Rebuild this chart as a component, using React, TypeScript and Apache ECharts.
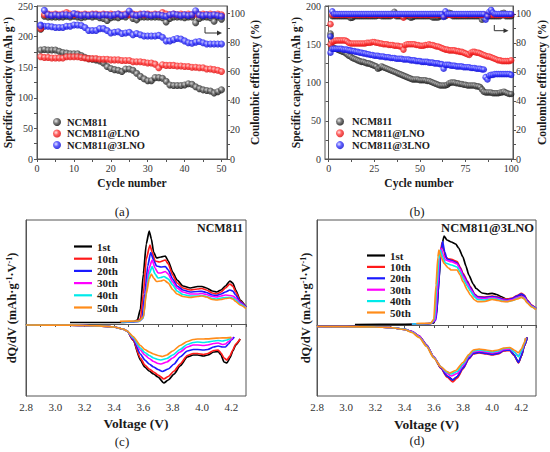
import React, { useEffect, useRef } from 'react';
import * as echarts from 'echarts';

// ---------- Panel (a): 50 cycles ----------
const aBlackCap = [
  178, 179, 178, 178, 178, 176, 174, 173, 172, 172,
  172, 169, 166, 164, 163, 162, 160, 157, 151, 148,
  146, 145, 143, 147, 147, 145, 140, 135, 131, 128,
  128, 133, 133, 132, 127, 121, 120, 120, 120, 121,
  123, 122, 118, 115, 113, 112, 111, 108, 110, 113,
];
const aRedCap = [
  167, 166, 166, 165, 165, 165, 165, 167, 167, 167,
  167, 166, 165, 164, 164, 164, 163, 163, 163, 162,
  162, 162, 161, 161, 161, 159, 159, 159, 158, 157,
  157, 155, 149, 154, 153, 153, 153, 152, 152, 151,
  151, 150, 150, 149, 149, 147, 147, 146, 145, 143,
];
const aBlueCap = [
  219, 217, 217, 216, 215, 215, 215, 217, 217, 219,
  219, 218, 215, 210, 210, 210, 213, 213, 210, 206,
  207, 208, 205, 206, 207, 203, 205, 203, 201, 201,
  201, 201, 202, 199, 193, 193, 195, 197, 196, 193,
  190, 189, 191, 192, 190, 188, 188, 188, 188, 188,
];
const aBlackCE = [
  89, 98, 97.5, 97.5, 97.5, 97.5, 97.5, 98, 97.5, 98,
  97.5, 97, 97.5, 98, 97.5, 98, 97, 96.5, 95, 97,
  97.5, 97, 98, 97.5, 99.5, 96.5, 95.5, 97.5, 97.5, 97.5,
  97.5, 97.5, 97.5, 97, 94, 96.5, 97.5, 97.5, 97.5, 97,
  97.5, 97.5, 93.5, 96.5, 97.5, 97.5, 97, 94.5, 97.5, 96,
];
const aRedCE = [
  89.5, 99, 99.5, 99, 99.5, 99, 99.5, 100.5, 99.5, 99,
  99.5, 99, 99.5, 99, 99.5, 99.5, 99, 99.5, 99, 99.5,
  99, 99.5, 99, 99.5, 99, 99.5, 99, 99.5, 99, 99.5,
  99, 99.5, 99, 100.5, 99.5, 99, 99.5, 99, 99.5, 99,
  99.5, 99, 99.5, 99, 99.5, 99, 99.5, 99, 99.5, 99,
];
const aBlueCE = [
  91.5, 102, 99, 98.5, 99, 98.5, 99, 99, 98.5, 99.8,
  99, 98.5, 99, 98.5, 99, 99, 98.5, 99, 99, 98.5,
  99, 99.5, 98.5, 99, 101.5, 99, 98.5, 99, 99.5, 99,
  98.5, 99, 99, 98.5, 98, 99, 99.5, 99, 98.5, 99,
  98.5, 99, 101.8, 99, 98.5, 99, 98.5, 99, 98.5, 98,
];

// ---------- Panel (b): 100 cycles ----------
const bBlackCap = [
  161, 146, 145, 144, 143, 142, 141, 140, 139, 137,
  135, 134, 132, 131, 130, 129, 128, 127, 127, 126,
  125, 125, 124, 123, 122, 121, 118, 119, 121, 120,
  119, 118, 117, 116, 115, 114, 113, 112, 111, 110,
  109, 108, 107, 106, 105, 104, 104, 104, 104, 103,
  103, 103, 103, 102, 102, 101, 100, 99, 98, 97,
  96, 96, 96, 96, 97, 99, 100, 100, 100, 99,
  99, 98, 98, 97, 97, 96, 96, 96, 96, 96,
  95, 95, 94, 91, 88, 87, 87, 87, 87, 86,
  86, 86, 86, 87, 87, 88, 87, 86, 85, 85,
];
const bRedCap = [
  150, 153, 154, 155, 155, 155, 155, 155, 155, 154,
  152, 151, 151, 151, 151, 151, 151, 151, 151, 151,
  152, 152, 152, 153, 153, 152, 152, 151, 151, 150,
  150, 150, 149, 149, 149, 148, 148, 148, 147, 147,
  143, 149, 150, 150, 150, 150, 150, 149, 149, 148,
  148, 148, 149, 149, 150, 149, 149, 148, 147, 147,
  146, 145, 144, 143, 143, 142, 142, 142, 142, 141,
  141, 140, 140, 139, 138, 137, 136, 139, 140, 140,
  139, 139, 138, 137, 136, 135, 134, 134, 133, 132,
  131, 130, 129, 129, 128, 128, 128, 128, 128, 129,
];
const bBlueCap = [
  139, 144, 144, 144, 144, 144, 144, 143, 143, 143,
  142, 142, 141, 141, 140, 140, 139, 139, 138, 138,
  137, 137, 136, 136, 135, 135, 135, 134, 134, 134,
  133, 133, 133, 132, 132, 132, 131, 131, 131, 131,
  130, 130, 130, 130, 129, 129, 129, 128, 128, 128,
  127, 127, 127, 127, 126, 126, 126, 125, 125, 125,
  124, 124, 118, 123, 123, 123, 122, 122, 122, 121,
  121, 121, 121, 120, 120, 120, 120, 119, 119, 119,
  118, 118, 118, 117, 117, 107, 104, 109, 110, 110,
  111, 111, 111, 111, 111, 111, 111, 111, 111, 110,
];
const bBlackCE = [
  86.5, 98.5, 98.5, 98.5, 98.5, 98.5, 98.5, 98.5, 98.5, 98.5,
  98.5, 97.3, 97.5, 98.5, 98.5, 98.5, 98.5, 98.5, 98.5, 98.5,
  98.5, 98.5, 98.5, 98.5, 98.5, 98.5, 99, 99, 98.5, 98.5,
  98.5, 98.5, 98.5, 98.5, 99.5, 101.5, 98.5, 98.5, 98.5, 98.5,
  98.5, 98.5, 98.5, 98.5, 97.5, 97.8, 98.5, 98.5, 98.5, 98.5,
  98.5, 98.5, 98.5, 98.5, 98.5, 98.5, 97.6, 97.6, 97.6, 97.6,
  98.5, 98.5, 98.5, 98.5, 99.5, 100.8, 100.5, 98.5, 98.5, 98.5,
  98.5, 98.5, 98.5, 98.5, 98.5, 98.5, 98.5, 98.5, 98.5, 98.5,
  98.5, 98.5, 98.5, 96, 97.2, 98.5, 98.5, 98.5, 98.5, 98.5,
  98.5, 98.5, 98.5, 98.5, 100.5, 100.8, 98.5, 98.5, 98.5, 98.5,
];
const bRedCE = [
  93, 99.3, 99.5, 99.3, 99.3, 99.5, 99.3, 99.3, 99.5, 99.3,
  99.3, 99.5, 99.3, 99.3, 99.5, 99.3, 99.3, 99.5, 99.3, 99.3,
  99.5, 99.3, 99.3, 99.5, 99.3, 99.3, 99.5, 99.3, 99.3, 99.5,
  99.3, 99.3, 99.5, 99.3, 99.3, 99.5, 99.3, 99.3, 99.5, 99.3,
  97.5, 99.3, 99.5, 99.3, 99.3, 99.5, 99.3, 99.3, 99.5, 99.3,
  99.3, 99.5, 99.3, 99.3, 99.5, 99.3, 99.3, 99.5, 99.3, 99.3,
  99.5, 99.3, 99.3, 99.5, 99.3, 99.3, 99.5, 99.3, 99.3, 99.5,
  99.3, 99.3, 99.5, 99.3, 99.3, 99.5, 99.8, 99.3, 99.5, 99.3,
  99.3, 99.5, 99.3, 99.3, 99.5, 99.3, 99.3, 99.5, 99.3, 99.3,
  99.5, 99.3, 99.3, 99.5, 99.3, 99.3, 99.5, 99.3, 99.3, 99.5,
];
const bBlueCE = [
  84.5, 101.8, 100, 100, 100, 100, 100, 100, 100, 100,
  100, 100, 100, 100, 100, 100, 100, 100, 100, 100,
  100, 100, 100, 100, 100, 100, 100, 100, 100, 100,
  100, 100, 100, 100, 100, 100, 100, 100, 100, 100,
  100, 100, 100, 100, 100, 100, 100, 100, 100, 100,
  100, 100, 100, 100, 100, 100, 100, 100, 100, 100,
  100, 100, 98, 101.8, 100, 100, 100, 100, 100, 100,
  100, 100, 100, 100, 100, 100, 100, 100, 100, 100,
  100, 100, 100, 100, 100, 96, 98.5, 101.5, 102.8, 101,
  100, 100, 100, 100, 100, 100, 100, 100, 100, 100,
];

const sampleNames = ['NCM811', 'NCM811@LNO', 'NCM811@3LNO'];
const xTicksA = [0, 10, 20, 30, 40, 50];
const xTicksB = [0, 25, 50, 75, 100];
const ceTicks = [0, 20, 40, 60, 80, 100];

// ---------- Panels (c), (d): dQ/dV curves [voltage, dQ/dV (a.u.)] ----------
const cycleLabels = ['1st', '10th', '20th', '30th', '40th', '50th'];
const voltTicks = [2.8, 3.0, 3.2, 3.4, 3.6, 3.8, 4.0, 4.2];
const voltMinorTicks = [2.8, 2.9, 3.0, 3.1, 3.2, 3.3, 3.4, 3.5, 3.6, 3.7, 3.8, 3.9, 4.0, 4.1, 4.2, 4.3];

const cCh1 = [[3.10,1.5],[3.45,1.5],[3.53,2],[3.56,4],[3.58,15],[3.60,50],[3.62,80],[3.64,93],[3.655,85],[3.67,72],[3.69,66],[3.72,67],[3.75,68],[3.77,63],[3.80,52],[3.83,44],[3.87,38],[3.92,36],[3.97,37.5],[4.00,37.5],[4.03,36],[4.07,33],[4.10,32],[4.13,34],[4.16,38],[4.19,43],[4.21,41],[4.23,34],[4.26,24],[4.30,17]];
const cCh10 = [[3.45,2],[3.55,2.5],[3.58,5],[3.60,30],[3.62,65],[3.645,79],[3.66,72],[3.68,63],[3.71,62],[3.75,64],[3.77,60],[3.80,49],[3.83,41],[3.87,36],[3.92,34],[3.97,35],[4.00,35.5],[4.03,34],[4.07,31],[4.10,30],[4.13,32],[4.16,36],[4.19,40],[4.21,38],[4.23,32],[4.26,23],[4.30,17]];
const cCh20 = [[3.45,2],[3.56,2.5],[3.59,5],[3.61,30],[3.63,58],[3.65,71.5],[3.67,64],[3.69,58],[3.72,57],[3.75,57.5],[3.77,54],[3.80,45],[3.83,38],[3.87,34],[3.92,32],[3.97,32.5],[4.00,32.7],[4.03,31.5],[4.07,29],[4.10,28.5],[4.13,30],[4.16,32],[4.19,34],[4.21,33],[4.23,29],[4.26,22],[4.30,17]];
const cCh30 = [[3.45,2],[3.57,2.5],[3.60,6],[3.62,35],[3.64,56],[3.66,64],[3.68,56],[3.70,51],[3.72,51],[3.75,52.5],[3.77,50],[3.80,42],[3.83,36],[3.87,32],[3.92,30],[3.97,30],[4.00,30.5],[4.03,29.5],[4.07,27.5],[4.10,27],[4.13,28],[4.16,29],[4.19,28.5],[4.21,28],[4.23,26],[4.26,21],[4.30,16.5]];
const cCh40 = [[3.45,2.2],[3.57,2.7],[3.60,6],[3.62,32],[3.64,50],[3.66,57.5],[3.68,50],[3.70,46],[3.72,46.5],[3.74,47.5],[3.77,45],[3.80,39],[3.83,33],[3.87,29.5],[3.92,28],[3.97,28],[4.00,28.5],[4.03,27.5],[4.07,25.5],[4.10,25],[4.13,26],[4.16,26.5],[4.19,26.5],[4.21,26],[4.23,24],[4.26,20],[4.30,16]];
const cCh50 = [[3.44,2.7],[3.57,3],[3.60,7],[3.62,30],[3.64,45],[3.655,50],[3.67,46],[3.69,42.5],[3.72,43],[3.74,44],[3.77,41],[3.80,34.5],[3.83,30],[3.87,27.5],[3.92,26.5],[3.97,27.5],[4.00,28],[4.03,27],[4.07,24.5],[4.10,24],[4.13,24.5],[4.16,25.5],[4.19,26],[4.21,25],[4.23,22.5],[4.26,19],[4.30,15.5]];

const cDis1 = [[2.80,-1],[3.10,-1.2],[3.30,-1.8],[3.40,-3],[3.46,-5],[3.49,-7],[3.53,-16],[3.58,-36],[3.61,-43],[3.64,-47],[3.67,-50],[3.70,-53],[3.74,-59],[3.77,-56],[3.81,-50],[3.85,-42],[3.90,-33],[3.94,-31],[3.97,-31],[4.01,-32],[4.04,-31],[4.08,-28],[4.11,-27.5],[4.13,-31],[4.15,-38],[4.17,-39],[4.19,-34],[4.21,-27],[4.23,-21],[4.26,-15]];
const cDis10 = [[2.80,-1],[3.10,-1.2],[3.30,-1.8],[3.40,-3],[3.46,-5],[3.49,-7],[3.53,-16],[3.58,-34],[3.61,-41],[3.64,-45],[3.67,-48],[3.70,-51],[3.74,-55],[3.77,-52.5],[3.81,-47],[3.85,-40],[3.90,-31.5],[3.94,-29.5],[3.97,-29.5],[4.01,-30.5],[4.04,-29.5],[4.08,-26.5],[4.11,-26],[4.13,-29],[4.15,-34],[4.17,-36],[4.19,-32],[4.21,-26],[4.23,-20],[4.26,-15]];
const cDis20 = [[2.80,-1],[3.10,-1.2],[3.30,-1.8],[3.40,-3],[3.46,-5],[3.49,-7],[3.53,-15],[3.58,-30],[3.61,-36],[3.64,-40],[3.67,-43],[3.70,-45.5],[3.73,-47.5],[3.77,-45],[3.81,-40],[3.85,-33],[3.90,-27],[3.94,-25.5],[3.97,-25.5],[4.01,-26],[4.04,-25.5],[4.08,-23],[4.11,-22],[4.14,-23],[4.16,-23],[4.18,-20],[4.20,-16],[4.22,-13]];
const cDis30 = [[2.80,-1],[3.10,-1.2],[3.30,-1.8],[3.40,-3],[3.46,-5],[3.49,-7],[3.53,-14],[3.58,-26],[3.61,-31],[3.64,-34.5],[3.67,-37.5],[3.70,-39.5],[3.72,-40],[3.76,-38],[3.80,-34],[3.85,-28],[3.90,-23],[3.94,-21],[3.97,-21],[4.01,-21.5],[4.04,-21],[4.08,-19.5],[4.11,-19],[4.14,-20.5],[4.16,-20],[4.18,-17.5],[4.21,-13.5]];
const cDis40 = [[2.80,-1],[3.10,-1.2],[3.30,-1.8],[3.40,-3],[3.46,-5],[3.49,-7],[3.53,-13.5],[3.58,-24],[3.61,-28.5],[3.64,-31.5],[3.67,-34],[3.70,-35.5],[3.72,-36],[3.76,-34.5],[3.80,-31],[3.85,-25.5],[3.90,-20.5],[3.94,-18.5],[3.97,-18],[4.01,-18.5],[4.04,-18],[4.08,-17],[4.11,-16.5],[4.14,-17],[4.17,-16],[4.20,-13.5]];
const cDis50 = [[2.80,-1],[3.10,-1.2],[3.30,-1.8],[3.40,-3],[3.46,-5],[3.49,-7],[3.53,-12.5],[3.58,-21.5],[3.61,-25.5],[3.64,-28],[3.67,-30],[3.70,-31.5],[3.73,-32.5],[3.76,-31],[3.80,-27],[3.85,-21.5],[3.90,-17.5],[3.94,-15.5],[3.97,-15],[4.01,-15],[4.04,-14.8],[4.08,-14.3],[4.12,-14],[4.16,-13.8],[4.20,-13.3]];

const dCh1 = [[3.06,0.5],[3.40,0.7],[3.55,1],[3.60,2],[3.62,12],[3.635,45],[3.65,75],[3.67,89],[3.69,85],[3.72,83],[3.75,81],[3.77,77],[3.80,68],[3.82,59],[3.84,50],[3.87,41],[3.89,36.5],[3.93,32],[3.97,31],[4.00,31.7],[4.03,30.5],[4.06,28.5],[4.10,25.7],[4.14,26.5],[4.17,28],[4.20,30],[4.22,28],[4.24,23.3],[4.27,19],[4.30,15.7]];
const dCh10 = [[3.45,1],[3.58,1.5],[3.61,5],[3.625,30],[3.64,65],[3.655,82],[3.67,74],[3.68,68],[3.70,66],[3.72,65.7],[3.76,63.3],[3.78,58],[3.80,51.7],[3.83,44],[3.85,38.3],[3.88,31],[3.90,28.3],[3.95,28],[4.00,29],[4.04,28],[4.07,26.5],[4.10,25.7],[4.14,27],[4.17,29.5],[4.20,31.7],[4.22,30],[4.24,25],[4.27,20],[4.30,16.7]];
const dCh20 = [[3.45,1],[3.58,1.5],[3.615,5],[3.63,32],[3.645,68],[3.66,83.3],[3.675,73],[3.69,66],[3.72,64.3],[3.76,62],[3.78,57],[3.80,50.5],[3.83,43],[3.85,37.5],[3.88,30.5],[3.90,28],[3.95,27.5],[4.00,28.5],[4.04,27.5],[4.07,26],[4.10,25],[4.14,26.5],[4.17,29],[4.20,31],[4.22,29.5],[4.24,24.5],[4.27,19.5],[4.30,16.5]];
const dCh30 = [[3.45,1],[3.58,1.5],[3.61,5],[3.625,35],[3.64,68],[3.65,76.7],[3.665,70],[3.68,65],[3.72,63.3],[3.76,61],[3.78,56],[3.80,49],[3.83,41.5],[3.85,36],[3.88,29.5],[3.90,27],[3.95,26.5],[4.00,27.5],[4.04,26.5],[4.07,25],[4.10,24.3],[4.14,25.5],[4.17,27.5],[4.20,29],[4.22,27.5],[4.24,23.5],[4.27,19],[4.30,16]];
const dCh40 = [[3.45,1],[3.58,1.5],[3.605,6],[3.62,38],[3.635,66],[3.645,75],[3.66,68],[3.68,62],[3.72,60],[3.76,58],[3.78,53],[3.80,46.5],[3.83,39],[3.85,34],[3.88,28],[3.90,25.5],[3.95,25],[4.00,26.5],[4.04,25.5],[4.07,24],[4.10,23.5],[4.14,24.5],[4.17,26.5],[4.20,28],[4.22,26.5],[4.24,22.5],[4.27,18.5],[4.30,15.8]];
const dCh50 = [[3.48,1.5],[3.58,1.8],[3.60,6],[3.615,40],[3.628,68],[3.635,75],[3.65,68],[3.67,61.7],[3.70,57],[3.72,55],[3.76,55],[3.78,50],[3.80,43.3],[3.83,35],[3.85,30],[3.88,25],[3.90,23.3],[3.95,23.5],[4.00,25.7],[4.04,24.5],[4.07,23.5],[4.10,23.3],[4.14,24.5],[4.17,26],[4.20,27.7],[4.22,26],[4.24,22],[4.27,18],[4.30,15.5]];

const dDis1 = [[2.80,-1.5],[3.00,-1.7],[3.20,-2],[3.30,-2.5],[3.40,-4.3],[3.45,-6.7],[3.50,-11],[3.55,-20],[3.60,-32],[3.65,-43],[3.69,-51],[3.73,-55],[3.76,-52],[3.80,-43],[3.84,-33],[3.87,-28],[3.91,-27],[3.96,-28],[4.00,-29],[4.04,-28],[4.08,-25.5],[4.12,-25],[4.15,-30],[4.18,-37.5],[4.20,-31],[4.22,-21],[4.24,-12.5]];
const dDis10 = [[2.80,-1.5],[3.00,-1.7],[3.20,-2],[3.30,-2.5],[3.40,-4.3],[3.45,-6.7],[3.50,-11],[3.55,-20],[3.60,-32],[3.65,-43.5],[3.69,-52],[3.73,-57],[3.76,-53],[3.80,-44],[3.84,-34],[3.87,-29],[3.91,-28],[3.96,-29],[4.00,-30],[4.04,-29],[4.08,-26],[4.12,-25.5],[4.15,-30.5],[4.18,-38],[4.20,-31],[4.22,-21],[4.24,-12.5]];
const dDis20 = [[2.80,-1.5],[3.00,-1.7],[3.20,-2],[3.30,-2.5],[3.40,-4.3],[3.45,-6.7],[3.50,-11],[3.55,-20],[3.60,-32],[3.65,-43],[3.69,-51],[3.73,-55],[3.76,-51.5],[3.80,-43],[3.84,-33.5],[3.87,-28.5],[3.91,-27.5],[3.96,-28.5],[4.00,-29.5],[4.04,-28.5],[4.08,-25.5],[4.12,-25],[4.15,-30],[4.18,-37.5],[4.20,-30.5],[4.22,-20.5],[4.24,-12.5]];
const dDis30 = [[2.80,-1.5],[3.00,-1.7],[3.20,-2],[3.30,-2.5],[3.40,-4.3],[3.45,-6.7],[3.50,-11],[3.55,-20.5],[3.60,-32],[3.65,-42],[3.69,-48.5],[3.72,-51],[3.76,-48.5],[3.80,-40.5],[3.84,-31.5],[3.87,-27],[3.91,-26],[3.96,-27],[4.00,-28],[4.04,-27],[4.08,-24.5],[4.12,-24],[4.15,-27],[4.18,-31],[4.20,-26.5],[4.22,-19],[4.23,-13]];
const dDis40 = [[2.80,-1.5],[3.00,-1.7],[3.20,-2],[3.30,-2.5],[3.40,-4.3],[3.45,-7],[3.50,-12],[3.55,-21],[3.60,-32.5],[3.65,-42],[3.69,-47.5],[3.72,-49],[3.76,-46.5],[3.80,-39],[3.84,-30.5],[3.87,-26],[3.91,-25],[3.96,-26],[4.00,-27],[4.04,-26],[4.08,-23.5],[4.12,-23],[4.15,-27],[4.18,-31.7],[4.20,-26],[4.22,-18.5],[4.23,-13]];
const dDis50 = [[2.80,-1.5],[3.00,-1.7],[3.20,-2],[3.30,-2.5],[3.40,-4.5],[3.45,-7.5],[3.50,-12.5],[3.55,-21.5],[3.60,-33],[3.65,-42],[3.69,-46.5],[3.71,-48],[3.75,-45.5],[3.80,-37.5],[3.84,-29.5],[3.87,-25],[3.91,-24],[3.96,-25],[4.00,-26],[4.04,-25],[4.08,-23],[4.12,-22.5],[4.15,-25],[4.18,-27.7],[4.20,-24],[4.22,-17.5],[4.23,-13]];

const cCharge = [cCh1, cCh10, cCh20, cCh30, cCh40, cCh50];
const cDischarge = [cDis1, cDis10, cDis20, cDis30, cDis40, cDis50];
const dCharge = [dCh1, dCh10, dCh20, dCh30, dCh40, dCh50];
const dDischarge = [dDis1, dDis10, dDis20, dDis30, dDis40, dDis50];

// ---------- styles ----------
const FONT = 'Liberation Serif';
const FRAME = '#555';
const TXT = '#1a1a1a';
const cycleColors = ['#000000', '#ff1a1a', '#1a1aff', '#ff00ff', '#00eaea', '#ff8c1a'];

const ball = (c0: string, c1: string, c2: string) => ({
  type: 'radial', x: 0.38, y: 0.38, r: 0.68,
  colorStops: [
    { offset: 0, color: c0 },
    { offset: 0.45, color: c1 },
    { offset: 1, color: c2 },
  ],
});
const balls = [
  ball('#e6e6e6', '#5a5a5a', '#000000'),
  ball('#ffe0e0', '#ff3a3a', '#d40000'),
  ball('#e0e0ff', '#3a3aff', '#0000c8'),
];

const nameStyle = (size: number) => ({
  fontFamily: FONT, fontWeight: 'bold', fontSize: size, color: TXT,
  rich: { sup: { fontFamily: FONT, fontWeight: 'bold', fontSize: Math.round(size * 0.62), color: TXT, verticalAlign: 'top' } },
});
const labelStyle = (size: number, margin: number) => ({
  fontFamily: FONT, fontSize: size, color: '#333', margin,
});

function buildOption() {
  const grids = [
    { left: 37, top: 6, width: 190, height: 153 },
    { left: 325, top: 6, width: 188, height: 153 },
    { left: 26, top: 220, width: 220, height: 176 },
    { left: 317, top: 220, width: 219, height: 176 },
  ].map((g) => ({ ...g, show: true, borderColor: FRAME, borderWidth: 1, backgroundColor: 'transparent' }));

  const axisLine = { show: true, lineStyle: { color: FRAME, width: 1 } };
  const tickOut = (vals: number[], len = 3) => ({ show: true, inside: false, length: len, customValues: vals, lineStyle: { color: FRAME } });

  const xAxis: any[] = [
    {
      gridIndex: 0, type: 'value', min: 0, max: 51.5,
      name: 'Cycle number', nameLocation: 'middle', nameGap: 18, nameTextStyle: nameStyle(11.5),
      axisLine, axisTick: tickOut([0, 5, 10, 15, 20, 25, 30, 35, 40, 45, 50]),
      axisLabel: { ...labelStyle(10, 4), customValues: xTicksA }, splitLine: { show: false },
    },
    {
      gridIndex: 1, type: 'value', min: -2, max: 101,
      name: 'Cycle number', nameLocation: 'middle', nameGap: 18, nameTextStyle: nameStyle(11.5),
      axisLine, axisTick: tickOut([0, 12.5, 25, 37.5, 50, 62.5, 75, 87.5, 100]),
      axisLabel: { ...labelStyle(10, 4), customValues: xTicksB }, splitLine: { show: false },
    },
    {
      gridIndex: 2, type: 'value', min: 2.8, max: 4.3,
      name: 'Voltage (V)', nameLocation: 'middle', nameGap: 20, nameTextStyle: nameStyle(13.5),
      axisLine, axisTick: tickOut(voltMinorTicks),
      axisLabel: { ...labelStyle(11, 5), customValues: voltTicks, formatter: (v: number) => v.toFixed(1) }, splitLine: { show: false },
    },
    {
      gridIndex: 3, type: 'value', min: 2.8, max: 4.3,
      name: 'Voltage (V)', nameLocation: 'middle', nameGap: 21, nameTextStyle: nameStyle(13.5),
      axisLine, axisTick: tickOut(voltMinorTicks),
      axisLabel: { ...labelStyle(11, 5), customValues: voltTicks, formatter: (v: number) => v.toFixed(1) }, splitLine: { show: false },
    },
  ];

  const yAxis: any[] = [
    {
      gridIndex: 0, type: 'value', min: 0, max: 250, interval: 50, position: 'left',
      name: 'Specific capacity (mAh g{sup|-1})', nameLocation: 'middle', nameGap: 21, nameTextStyle: nameStyle(11.5),
      axisLine, axisTick: tickOut([0, 25, 50, 75, 100, 125, 150, 175, 200, 225, 250]),
      axisLabel: labelStyle(10, 4), splitLine: { show: false },
    },
    {
      gridIndex: 0, type: 'value', min: 0, max: 105, position: 'right',
      name: 'Coulombic efficiency (%)', nameLocation: 'middle', nameGap: 21, nameTextStyle: nameStyle(11.5),
      axisLine, axisTick: tickOut([0, 10, 20, 30, 40, 50, 60, 70, 80, 90, 100]),
      axisLabel: { ...labelStyle(10, 3), customValues: ceTicks }, splitLine: { show: false },
    },
    {
      gridIndex: 1, type: 'value', min: 0, max: 200, interval: 50, position: 'left',
      name: 'Specific capacity (mAh g{sup|-1})', nameLocation: 'middle', nameGap: 22, nameTextStyle: nameStyle(11.5),
      axisLine, axisTick: tickOut([0, 25, 50, 75, 100, 125, 150, 175, 200]),
      axisLabel: labelStyle(10, 4), splitLine: { show: false },
    },
    {
      gridIndex: 1, type: 'value', min: 0, max: 105.5, position: 'right',
      name: 'Coulombic efficiency (%)', nameLocation: 'middle', nameGap: 23, nameTextStyle: nameStyle(11.5),
      axisLine, axisTick: tickOut([0, 10, 20, 30, 40, 50, 60, 70, 80, 90, 100]),
      axisLabel: { ...labelStyle(10, 3), customValues: ceTicks }, splitLine: { show: false },
    },
    {
      gridIndex: 2, type: 'value', min: -72, max: 104,
      name: 'dQ/dV (mAh·g{sup|-1}·V{sup|-1})', nameLocation: 'middle', nameGap: 8, nameTextStyle: nameStyle(12.5),
      axisLine, axisTick: { show: false }, axisLabel: { show: false }, splitLine: { show: false },
    },
    {
      gridIndex: 3, type: 'value', min: -71, max: 105,
      name: 'dQ/dV (mAh·g{sup|-1}·V{sup|-1})', nameLocation: 'middle', nameGap: 5, nameTextStyle: nameStyle(12.5),
      axisLine, axisTick: { show: false }, axisLabel: { show: false }, splitLine: { show: false },
    },
  ];

  const series: any[] = [];
  const scatter = (name: string, vals: number[], xi: number, yi: number, k: number, size: number) => ({
    type: 'scatter', name, xAxisIndex: xi, yAxisIndex: yi,
    data: vals.map((v, i) => [i + 1, v]),
    symbol: 'circle', symbolSize: size, itemStyle: { color: balls[k] }, silent: true,
  });
  const capsA = [aBlackCap, aRedCap, aBlueCap];
  const cesA = [aBlackCE, aRedCE, aBlueCE];
  const capsB = [bBlackCap, bRedCap, bBlueCap];
  const cesB = [bBlackCE, bRedCE, bBlueCE];
  for (let k = 0; k < 3; k++) series.push(scatter(sampleNames[k], capsA[k], 0, 0, k, 7));
  for (let k = 0; k < 3; k++) series.push(scatter(sampleNames[k], cesA[k], 0, 1, k, 7));
  for (let k = 0; k < 3; k++) series.push(scatter(sampleNames[k], capsB[k], 1, 2, k, 6.5));
  for (let k = 0; k < 3; k++) series.push(scatter(sampleNames[k], cesB[k], 1, 3, k, 6.5));

  const curve = (name: string, data: number[][], xi: number, yi: number, color: string) => ({
    type: 'line', name, xAxisIndex: xi, yAxisIndex: yi, data,
    symbol: 'none', smooth: 0.2, smoothMonotone: 'x',
    lineStyle: { color, width: 1.7 }, itemStyle: { color }, silent: true,
  });
  for (let i = 0; i < 6; i++) {
    series.push(curve(cycleLabels[i], cCharge[i], 2, 4, cycleColors[i]));
    series.push(curve(cycleLabels[i], cDischarge[i], 2, 4, cycleColors[i]));
  }
  for (let i = 0; i < 6; i++) {
    series.push(curve(cycleLabels[i], dCharge[i], 3, 5, cycleColors[i]));
    series.push(curve(cycleLabels[i], dDischarge[i], 3, 5, cycleColors[i]));
  }

  const legendText = (size: number) => ({ fontFamily: FONT, fontWeight: 'bold', fontSize: size, color: TXT });
  const legend: any[] = [
    {
      orient: 'vertical', left: 48, top: 111.5, itemWidth: 10, itemHeight: 8, itemGap: 0.5,
      icon: 'circle', selectedMode: false, textStyle: legendText(10.5),
      data: sampleNames.map((n, k) => ({ name: n, itemStyle: { color: balls[k] } })),
    },
    {
      orient: 'vertical', left: 331, top: 111, itemWidth: 14, itemHeight: 8, itemGap: 0.8,
      icon: 'circle', selectedMode: false, textStyle: legendText(10.5),
      data: sampleNames.map((n, k) => ({ name: n, itemStyle: { color: balls[k] } })),
    },
    {
      orient: 'vertical', left: 69, top: 236, itemWidth: 18, itemHeight: 2.2, itemGap: 1.2,
      icon: 'rect', selectedMode: false, textStyle: legendText(11), data: cycleLabels,
    },
    {
      orient: 'vertical', left: 362, top: 245, itemWidth: 18, itemHeight: 2.2, itemGap: 0.4,
      icon: 'rect', selectedMode: false, textStyle: legendText(11), data: cycleLabels,
    },
  ];

  const cap = (t: string, x: number, y: number) => ({
    type: 'text', x, y, style: { text: t, fontFamily: FONT, fontSize: 13, fill: TXT, align: 'center', verticalAlign: 'middle' },
  });
  const arrowStyle = { stroke: '#333', lineWidth: 1, fill: 'none' };
  const graphic: any[] = [
    cap('(a)', 122, 211), cap('(b)', 417, 211), cap('(c)', 122, 441), cap('(d)', 417, 440),
    { type: 'text', x: 243, y: 228, style: { text: 'NCM811', fontFamily: FONT, fontWeight: 'bold', fontSize: 12, fill: TXT, align: 'right', verticalAlign: 'middle' } },
    { type: 'text', x: 534, y: 228, style: { text: 'NCM811@3LNO', fontFamily: FONT, fontWeight: 'bold', fontSize: 12.5, fill: TXT, align: 'right', verticalAlign: 'middle' } },
    { type: 'polyline', shape: { points: [[205, 27], [205, 33], [218.5, 33]] }, style: arrowStyle },
    { type: 'polygon', shape: { points: [[222, 33], [217, 30.6], [217, 35.4]] }, style: { fill: '#333' } },
    { type: 'polyline', shape: { points: [[494.3, 25], [494.3, 30.7], [505, 30.7]] }, style: arrowStyle },
    { type: 'polygon', shape: { points: [[508.5, 30.7], [503.5, 28.3], [503.5, 33.1]] }, style: { fill: '#333' } },
  ];

  return { animation: false, backgroundColor: '#fff', grid: grids, xAxis, yAxis, series, legend, graphic };
}

export default function App() {
  const ref = useRef<HTMLDivElement>(null);
  useEffect(() => {
    const chart = echarts.init(ref.current!, null, { renderer: 'svg' });
    chart.setOption(buildOption() as any);
    return () => chart.dispose();
  }, []);
  return <div ref={ref} style={{ position: 'absolute', left: 0, top: 0, width: 550, height: 452 }} />;
}
